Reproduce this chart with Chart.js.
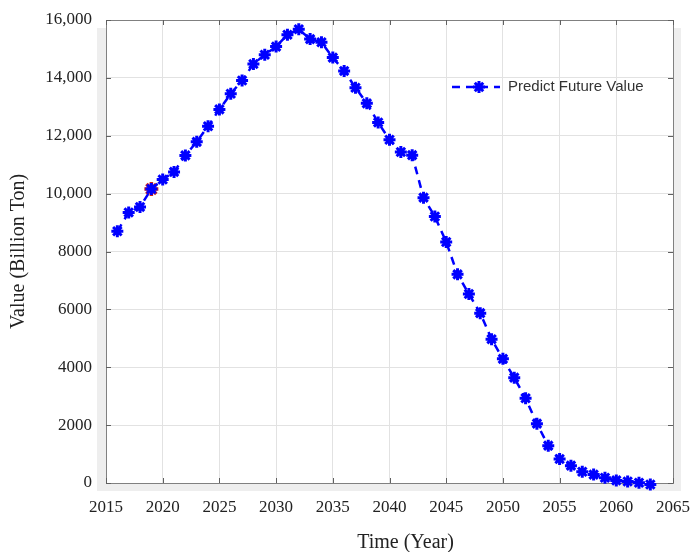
<!DOCTYPE html>
<html>
<head>
<meta charset="utf-8">
<title>Predict Future Value</title>
<script src="https://cdn.jsdelivr.net/npm/chart.js@4/dist/chart.umd.min.js"></script>
<style>
  html, body { margin: 0; padding: 0; background: #ffffff; }
  #wrap { width: 693px; height: 552px; }
</style>
</head>
<body>
<div id="wrap"><canvas id="chart" width="693" height="552"></canvas></div>
<script>
// Years of the forecast
const years = [
  2016, 2017, 2018, 2019, 2020, 2021, 2022, 2023, 2024, 2025,
  2026, 2027, 2028, 2029, 2030, 2031, 2032, 2033, 2034, 2035,
  2036, 2037, 2038, 2039, 2040, 2041, 2042, 2043, 2044, 2045,
  2046, 2047, 2048, 2049, 2050, 2051, 2052, 2053, 2054, 2055,
  2056, 2057, 2058, 2059, 2060, 2061, 2062, 2063
];

// Predicted value (billion ton) for each year
const predictedValues = [
  8700, 9350, 9540, 10160, 10490, 10750, 11320, 11790, 12330, 12910,
  13450, 13910, 14480, 14800, 15080, 15490, 15680, 15340, 15230, 14700,
  14240, 13660, 13120, 12460, 11860, 11440, 11330, 9860, 9210, 8330,
  7210, 6530, 5870, 4970, 4290, 3640, 2930, 2050, 1290, 830,
  600, 390, 290, 180, 90, 50, 10, -50
];

// Last observed value
const observedYears = [2019];
const observedValues = [10160];

// Axis ticks
const xTicks = [2015, 2020, 2025, 2030, 2035, 2040, 2045, 2050, 2055, 2060, 2065];
const yTicks = [0, 2000, 4000, 6000, 8000, 10000, 12000, 14000, 16000];

const seriesLabel = 'Predict Future Value';
const xTitle = 'Time (Year)';
const yTitle = 'Value (Billion Ton)';

const BLUE = '#0000ff';
const SERIF = '"Liberation Serif", "Times New Roman", serif';
const SANS = '"Liberation Sans", Arial, sans-serif';

function yLabel(v) {
  return v >= 10000 ? v.toLocaleString('en-US') : String(v);
}

// Frame, inward tick marks, shaded border, legend and x title
const decorations = {
  id: 'decorations',
  beforeDraw(chart) {
    const { ctx, chartArea: a } = chart;
    ctx.save();
    ctx.fillStyle = '#ffffff';
    ctx.fillRect(0, 0, chart.width, chart.height);
    ctx.fillStyle = '#eeeeee';
    ctx.fillRect(a.left - 9, a.top + 8, a.right - a.left + 17, a.bottom - a.top);
    ctx.fillStyle = '#ffffff';
    ctx.fillRect(a.left, a.top, a.right - a.left, a.bottom - a.top);
    ctx.restore();
  },
  beforeDatasetsDraw(chart) {
    const { ctx, chartArea: a, scales } = chart;
    ctx.save();
    ctx.strokeStyle = '#808080';
    ctx.lineWidth = 1;
    ctx.strokeRect(Math.round(a.left) + 0.5, Math.round(a.top) + 0.5,
      Math.round(a.right - a.left), Math.round(a.bottom - a.top));
    ctx.strokeStyle = '#606060';
    ctx.beginPath();
    const t = 5;
    xTicks.forEach(v => {
      const x = Math.round(scales.x.getPixelForValue(v)) + 0.5;
      ctx.moveTo(x, a.bottom); ctx.lineTo(x, a.bottom - t);
      ctx.moveTo(x, a.top); ctx.lineTo(x, a.top + t);
    });
    yTicks.forEach(v => {
      const y = Math.round(scales.y.getPixelForValue(v)) + 0.5;
      ctx.moveTo(a.left, y); ctx.lineTo(a.left + t, y);
      ctx.moveTo(a.right, y); ctx.lineTo(a.right - t, y);
    });
    ctx.stroke();
    ctx.restore();
  },
  afterDraw(chart) {
    const { ctx, chartArea: a } = chart;
    ctx.save();
    // legend entry
    const ly = 87, lx0 = 452, lx1 = 500, mx = 479;
    ctx.strokeStyle = BLUE;
    ctx.lineWidth = 2.5;
    ctx.setLineDash([8, 6]);
    ctx.beginPath();
    ctx.moveTo(lx0, ly); ctx.lineTo(lx1, ly);
    ctx.stroke();
    ctx.setLineDash([]);
    ctx.lineWidth = 3;
    ctx.fillStyle = BLUE;
    Chart.helpers.drawPoint(ctx, { pointStyle: 'star', radius: 6, rotation: 0, borderWidth: 3 }, mx, ly);
    ctx.fillStyle = '#333333';
    ctx.font = '15px ' + SANS;
    ctx.textAlign = 'left';
    ctx.textBaseline = 'middle';
    ctx.fillText(seriesLabel, 508, ly);
    // x axis title
    ctx.fillStyle = '#222222';
    ctx.font = '20px ' + SERIF;
    ctx.textAlign = 'center';
    ctx.fillText(xTitle, (a.left + a.right) / 2 + 16, 543);
    ctx.restore();
  }
};

new Chart(document.getElementById('chart'), {
  type: 'line',
  data: {
    datasets: [
      {
        label: seriesLabel,
        data: years.map((yr, i) => ({ x: yr, y: predictedValues[i] })),
        borderColor: BLUE,
        backgroundColor: BLUE,
        borderWidth: 2.5,
        borderDash: [8, 6],
        pointStyle: 'star',
        pointRadius: 6,
        pointBorderWidth: 3,
        pointBorderColor: BLUE,
        pointBackgroundColor: BLUE,
        tension: 0,
        clip: false
      },
      {
        label: 'Observed',
        data: observedYears.map((yr, i) => ({ x: yr, y: observedValues[i] })),
        showLine: false,
        pointStyle: 'star',
        pointRadius: 7,
        pointBorderWidth: 3.5,
        pointBorderColor: '#cc2222',
        pointBackgroundColor: '#cc2222',
        clip: false
      }
    ]
  },
  options: {
    responsive: false,
    animation: false,
    devicePixelRatio: 1,
    layout: { padding: { left: 0, right: 20, top: 20, bottom: 0 } },
    plugins: {
      legend: { display: false },
      tooltip: { enabled: false },
      title: { display: false }
    },
    scales: {
      x: {
        type: 'linear',
        min: 2015,
        max: 2065,
        afterBuildTicks(scale) { scale.ticks = xTicks.map(v => ({ value: v })); },
        afterFit(scale) {
          scale.height = 69;
          scale.paddingLeft = 0; scale.paddingRight = 0;
        },
        grid: { color: '#e2e2e2', lineWidth: 1, drawTicks: false },
        border: { display: false },
        ticks: {
          padding: 14,
          color: '#222222',
          font: { family: SERIF, size: 17 },
          maxRotation: 0,
          autoSkip: false,
          callback: v => String(v)
        },
        title: { display: false }
      },
      y: {
        type: 'linear',
        min: 0,
        max: 16000,
        afterBuildTicks(scale) { scale.ticks = yTicks.map(v => ({ value: v })); },
        afterFit(scale) {
          scale.width = 106;
          scale.paddingTop = 0; scale.paddingBottom = 0;
        },
        grid: { color: '#e2e2e2', lineWidth: 1, drawTicks: false },
        border: { display: false },
        ticks: {
          padding: 14,
          color: '#222222',
          font: { family: SERIF, size: 17 },
          autoSkip: false,
          callback: v => yLabel(v)
        },
        title: {
          display: true,
          text: yTitle,
          color: '#222222',
          font: { family: SERIF, size: 20 },
          padding: { top: 7, bottom: 0 }
        }
      }
    }
  },
  plugins: [decorations]
});
</script>
</body>
</html>
